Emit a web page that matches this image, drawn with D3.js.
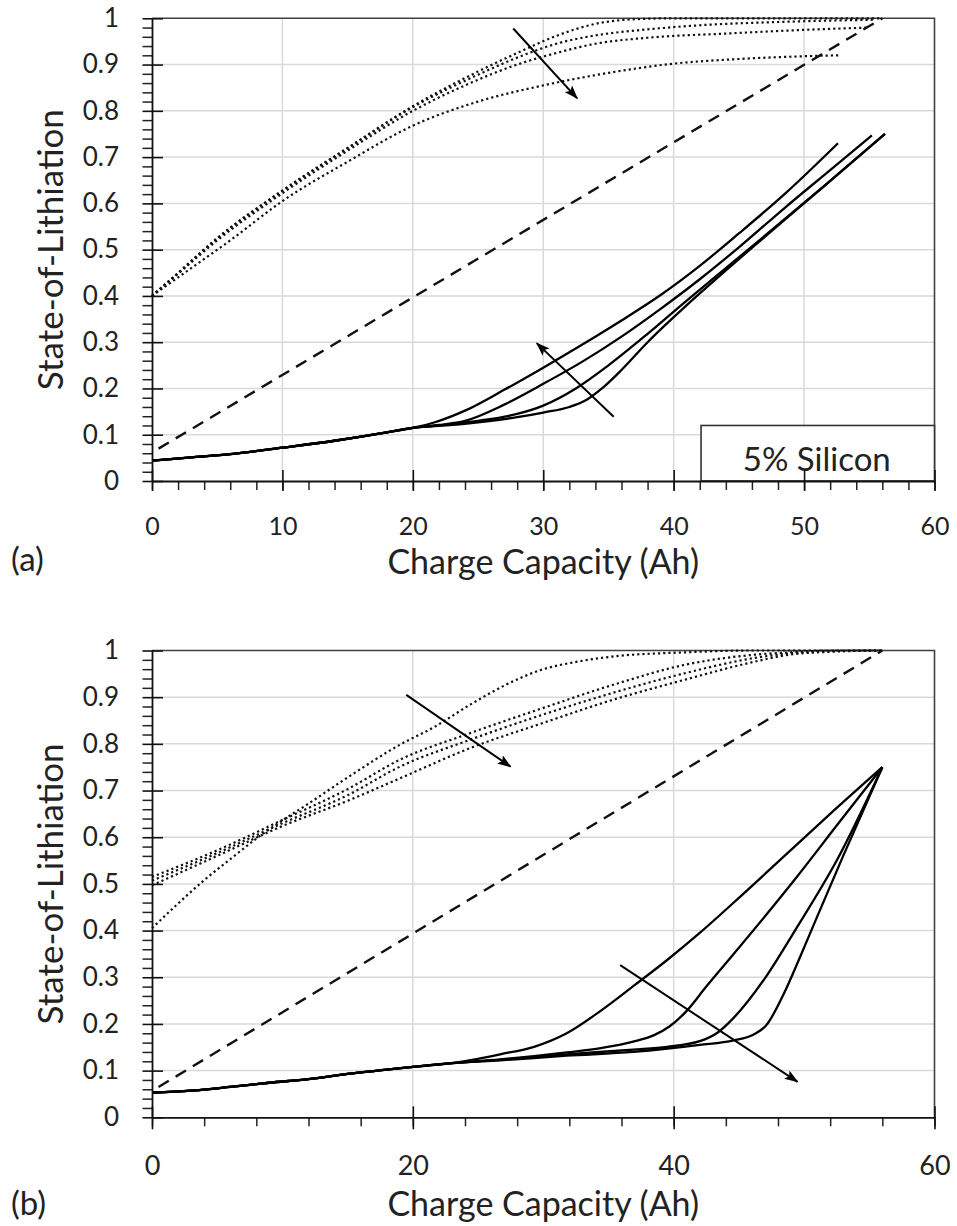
<!DOCTYPE html>
<html>
<head>
<meta charset="utf-8">
<script src="https://cdn.jsdelivr.net/npm/d3@7"></script>
<style>
  body { margin: 0; background: #fff; }
  svg { display: block; }
</style>
</head>
<body>
<svg id="chart" width="957" height="1226"></svg>
<script>
// ---- data: panel (a), 5% silicon ----
const aDashed = [[0.5, 0.07], [56, 1.0]];

const aDot1 = [[0,0.40],[2,0.45],[5,0.525],[10,0.628],[15,0.72],[20,0.81],[25,0.885],[28,0.925],[31,0.962],[34,0.988],[37,0.998],[40,1.0],[50,1.0],[56,1.0]];
const aDot2 = [[0,0.40],[2,0.449],[5,0.524],[10,0.627],[15,0.719],[20,0.808],[25,0.878],[28,0.915],[31,0.945],[34,0.963],[38,0.976],[42,0.985],[48,0.992],[55.5,0.997]];
const aDot3 = [[0,0.40],[2,0.448],[5,0.52],[10,0.622],[15,0.714],[20,0.8],[24,0.855],[28,0.9],[31,0.925],[34,0.945],[38,0.958],[44,0.967],[50,0.975],[55,0.98]];
const aDot4 = [[0,0.40],[3,0.46],[6,0.52],[10,0.605],[15,0.69],[20,0.768],[25,0.82],[30,0.855],[35,0.882],[40,0.902],[45,0.912],[50,0.918],[52.7,0.92]];

const aBase = [[0,0.044],[3,0.051],[6,0.058],[10,0.072],[14,0.087],[18,0.105],[20,0.115]];
const aSol1 = [[21.7,0.127],[24,0.152],[27,0.197],[30,0.245],[33,0.295],[36,0.347],[39,0.402],[42,0.465],[45,0.535],[48.5,0.62],[52.6,0.73]];
const aSol2 = [[22,0.121],[24,0.13],[27,0.165],[30,0.21],[33,0.258],[36,0.312],[39,0.372],[42,0.436],[45,0.505],[48.5,0.59],[52,0.672],[55.2,0.747]];
const aSol3 = [[22,0.12],[25,0.13],[28,0.145],[30,0.163],[32.5,0.2],[35,0.25],[38,0.318],[41,0.39],[44,0.46],[47.5,0.542],[51.5,0.637],[56.2,0.75]];
const aSol4 = [[22,0.119],[25,0.127],[28,0.138],[30,0.148],[32,0.16],[33.3,0.175],[34.5,0.2],[36,0.24],[38,0.3],[41,0.38],[44,0.455],[47.5,0.54],[51.5,0.636],[56.2,0.75]];

const aArrowDot = [[27.7, 0.978], [32.6, 0.827]];
const aArrowSol = [[35.4, 0.139], [29.5, 0.298]];

// ---- data: panel (b) ----
const bDashed = [[0.5, 0.065], [56, 1.0]];

const bDot1 = [[0,0.405],[2,0.458],[4,0.508],[6,0.553],[8,0.597],[10,0.636],[12,0.672],[15,0.728],[19,0.798],[21.7,0.837],[24.4,0.884],[27.1,0.926],[29.9,0.959],[32.6,0.976],[35.3,0.987],[40.8,0.996],[46,1.0],[56,1.0]];
const bDot2 = [[0,0.515],[5,0.572],[10,0.637],[15,0.703],[19,0.766],[24.4,0.823],[29.9,0.876],[35.3,0.926],[40.8,0.969],[46.2,0.991],[48.9,0.996],[52,1.0],[56,1.0]];
const bDot3 = [[0,0.507],[5,0.566],[10,0.63],[15,0.69],[19,0.751],[24.4,0.809],[29.9,0.862],[35.3,0.909],[40.8,0.951],[46.2,0.984],[48.9,0.994],[52,0.999],[56,1.0]];
const bDot4 = [[0,0.497],[5,0.56],[10,0.624],[15,0.678],[19,0.726],[24.4,0.791],[29.9,0.844],[35.3,0.894],[40.8,0.937],[46.2,0.976],[48.9,0.991],[52.7,0.998],[56,1.0]];

const bBase = [[0,0.053],[3,0.057],[6,0.065],[9,0.074],[12,0.082],[15,0.093],[18,0.102],[20,0.108],[23,0.116]];
const bSol1 = [[26.7,0.135],[29.3,0.151],[31.8,0.18],[34.4,0.228],[37,0.283],[39.5,0.337],[42,0.395],[45,0.47],[48.5,0.56],[52,0.65],[56,0.75]];
const bSol2 = [[26.7,0.124],[29.3,0.131],[31.8,0.139],[34.4,0.148],[36.9,0.162],[38.5,0.176],[39.7,0.195],[41,0.228],[42.5,0.28],[44.6,0.35],[47.1,0.434],[49.5,0.517],[52.5,0.625],[56,0.75]];
const bSol3 = [[26.7,0.123],[31.8,0.135],[36.9,0.145],[39.5,0.151],[42,0.163],[43.3,0.18],[44.6,0.213],[47.1,0.302],[49.3,0.40],[52.5,0.55],[56,0.75]];
const bSol4 = [[26.7,0.122],[31.8,0.132],[36.9,0.14],[42,0.155],[44.6,0.165],[46.1,0.177],[47.1,0.197],[48.4,0.262],[49.7,0.344],[50.9,0.423],[53,0.56],[56,0.75]];

const bArrowDot = [[19.5, 0.905], [27.5, 0.751]];
const bArrowSol = [[35.9, 0.326], [49.5, 0.076]];

// ---- ticks ----
const yTicks = [0, 0.1, 0.2, 0.3, 0.4, 0.5, 0.6, 0.7, 0.8, 0.9, 1];
const yTickLabels = ["0", "0.1", "0.2", "0.3", "0.4", "0.5", "0.6", "0.7", "0.8", "0.9", "1"];
const aXTicks = [0, 10, 20, 30, 40, 50, 60];
const bXTicks = [0, 20, 40, 60];

const font = "Lato, 'Open Sans', sans-serif";
const svg = d3.select("#chart");

// arrow head
svg.append("defs").append("marker")
    .attr("id", "head")
    .attr("markerUnits", "userSpaceOnUse")
    .attr("viewBox", "0 0 14 10")
    .attr("refX", 13).attr("refY", 5)
    .attr("markerWidth", 14).attr("markerHeight", 10)
    .attr("orient", "auto")
    .append("path")
    .attr("d", "M0,0 L14,5 L0,10 L3,5 Z")
    .attr("fill", "#000");

function drawPanel(cfg) {
    const x = d3.scaleLinear().domain([0, 60]).range([152, 934.5]);
    const y = d3.scaleLinear().domain([0, 1]).range(cfg.yRange);
    const g = svg.append("g");

    // grid
    g.append("g").selectAll("line")
        .data(cfg.xTicks.slice(1, -1))
        .join("line")
        .attr("x1", d => x(d)).attr("x2", d => x(d))
        .attr("y1", y(0)).attr("y2", y(1))
        .attr("stroke", "#d9d9d9").attr("stroke-width", 1.5);
    g.append("g").selectAll("line")
        .data(yTicks.slice(1, -1))
        .join("line")
        .attr("x1", x(0)).attr("x2", x(60))
        .attr("y1", d => y(d)).attr("y2", d => y(d))
        .attr("stroke", "#d9d9d9").attr("stroke-width", 1.5);

    // frame top / right
    g.append("path")
        .attr("d", `M${x(0)},${y(1)} H${x(60)} V${y(0)}`)
        .attr("fill", "none").attr("stroke", "#404040").attr("stroke-width", 1.6);

    const line = d3.line().x(d => x(d[0])).y(d => y(d[1])).curve(d3.curveMonotoneX);

    // dotted curves
    cfg.dots.forEach(s => {
        g.append("path").attr("d", line(s))
            .attr("fill", "none").attr("stroke", "#111")
            .attr("stroke-width", 2.2).attr("stroke-dasharray", "2.2,3");
    });

    // dashed line
    g.append("path").attr("d", line(cfg.dashed))
        .attr("fill", "none").attr("stroke", "#111")
        .attr("stroke-width", 2.4).attr("stroke-dasharray", "12,8");

    // solid curves
    cfg.solids.forEach(s => {
        const pts = cfg.base.concat(s);
        g.append("path").attr("d", line(pts))
            .attr("fill", "none").attr("stroke", "#000")
            .attr("stroke-width", 2.3).attr("stroke-linejoin", "round");
    });

    // arrows
    cfg.arrows.forEach(a => {
        g.append("line")
            .attr("x1", x(a[0][0])).attr("y1", y(a[0][1]))
            .attr("x2", x(a[1][0])).attr("y2", y(a[1][1]))
            .attr("stroke", "#000").attr("stroke-width", 2)
            .attr("marker-end", "url(#head)");
    });

    // legend box
    if (cfg.legend) {
        g.append("rect")
            .attr("x", x(42.1)).attr("y", y(0.12))
            .attr("width", x(60) - x(42.1)).attr("height", y(0) - y(0.12))
            .attr("fill", "#fff").attr("stroke", "#333").attr("stroke-width", 1.6);
        g.append("text")
            .attr("x", (x(42.1) + x(60)) / 2 - 1).attr("y", y(0.021))
            .attr("text-anchor", "middle")
            .attr("font-family", font).attr("font-size", 33).attr("fill", "#222")
            .text(cfg.legend);
    }

    // y axis: major ticks cross the axis, minor only outside
    const yMinor = d3.range(0, 1.001, 0.02).filter(v => Math.abs(v * 10 - Math.round(v * 10)) > 1e-6);
    g.append("g").attr("transform", `translate(${x(0)},0)`)
        .call(d3.axisLeft(y).tickValues(yMinor).tickSize(9.5).tickFormat(""))
        .call(s => s.select(".domain").remove())
        .selectAll("line").attr("stroke", "#222").attr("stroke-width", 1.5);
    const ya = g.append("g").attr("transform", `translate(${x(0)},0)`)
        .call(d3.axisLeft(y).tickValues(yTicks).tickSize(9.5).tickSizeOuter(0).tickPadding(23.5)
            .tickFormat((d, i) => yTickLabels[i]));
    ya.select(".domain").attr("stroke", "#111").attr("stroke-width", 1.8);
    ya.selectAll(".tick line").attr("x1", 11).attr("stroke", "#111").attr("stroke-width", 1.6);
    ya.selectAll("text").attr("font-family", font).attr("font-size", 26).attr("fill", "#222");

    // x axis
    g.append("g").attr("transform", `translate(0,${y(0)})`)
        .call(d3.axisBottom(x).tickValues(d3.range(0, 60.001, cfg.xMinor)).tickSize(9).tickFormat(""))
        .call(s => s.select(".domain").remove())
        .selectAll("line").attr("stroke", "#222").attr("stroke-width", 1.5);
    const xa = g.append("g").attr("transform", `translate(0,${y(0)})`)
        .call(d3.axisBottom(x).tickValues(cfg.xTicks).tickSize(cfg.xTickOut).tickSizeOuter(0).tickPadding(cfg.xPad));
    xa.select(".domain").attr("stroke", "#111").attr("stroke-width", 1.8);
    xa.selectAll(".tick line").attr("y1", -11).attr("stroke", "#111").attr("stroke-width", 1.6);
    xa.selectAll("text").attr("font-family", font).attr("font-size", cfg.xFont).attr("fill", "#222");

    // titles
    g.append("text")
        .attr("x", (x(0) + x(60)) / 2).attr("y", cfg.xTitleY)
        .attr("text-anchor", "middle")
        .attr("font-family", font).attr("font-size", 34).attr("fill", "#222")
        .text("Charge Capacity (Ah)");
    g.append("text")
        .attr("transform", `translate(63,${(y(0) + y(1)) / 2}) rotate(-90)`)
        .attr("text-anchor", "middle")
        .attr("font-family", font).attr("font-size", 35).attr("fill", "#222")
        .text("State-of-Lithiation");
    g.append("text")
        .attr("x", 11).attr("y", cfg.tagY)
        .attr("font-family", font).attr("font-size", 33).attr("fill", "#222")
        .text(cfg.tag);
}

drawPanel({
    yRange: [481, 18.3],
    xTicks: aXTicks, xMinor: 2, xTickOut: 10, xPad: 26, xFont: 25,
    dots: [aDot4, aDot3, aDot2, aDot1],
    dashed: aDashed,
    base: aBase, solids: [aSol1, aSol2, aSol3, aSol4],
    arrows: [aArrowDot, aArrowSol],
    legend: "5% Silicon",
    xTitleY: 574, tag: "(a)", tagY: 571
});

drawPanel({
    yRange: [1117.3, 650.5],
    xTicks: bXTicks, xMinor: 4, xTickOut: 12, xPad: 27, xFont: 27,
    dots: [bDot4, bDot3, bDot2, bDot1],
    dashed: bDashed,
    base: bBase, solids: [bSol1, bSol2, bSol3, bSol4],
    arrows: [bArrowDot, bArrowSol],
    legend: null,
    xTitleY: 1216, tag: "(b)", tagY: 1215
});
</script>
</body>
</html>
